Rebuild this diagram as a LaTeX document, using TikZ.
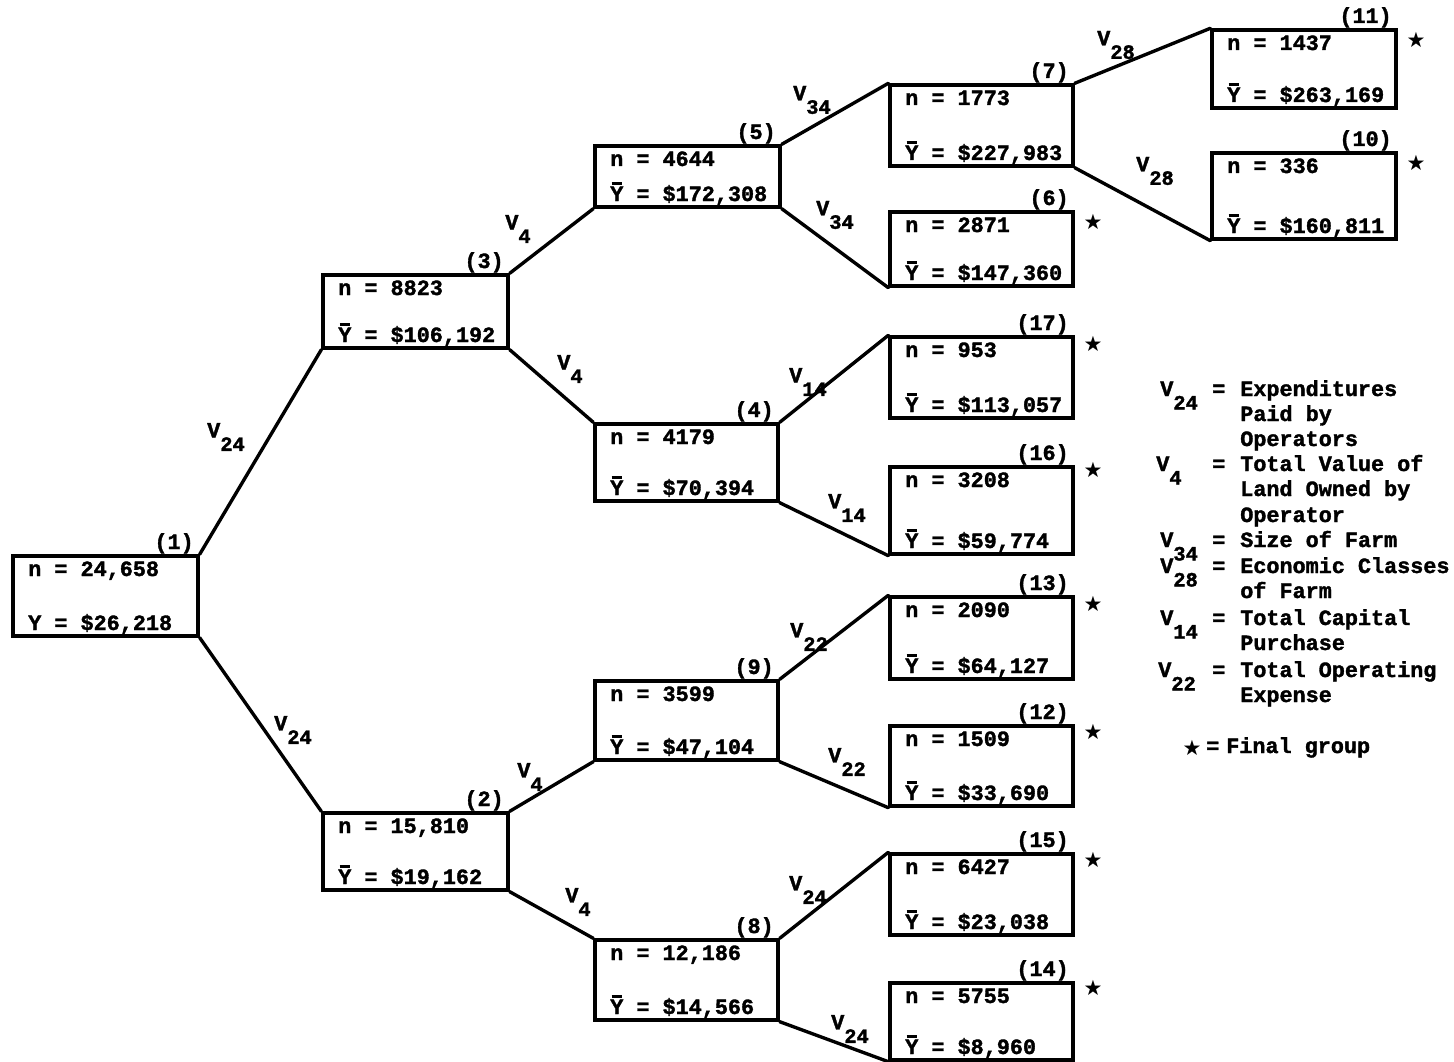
\documentclass[tikz,border=0pt]{standalone}
\usepackage{fontspec}
\setmainfont{Liberation Mono}[BoldFeatures={FakeBold=1.6}]
\newfontfamily\symfont{DejaVu Sans}
\usetikzlibrary{fit}

% mean value symbol: Y with a heavy bar over it
\newcommand\ybar{\leavevmode\rlap{\hspace{0.06em}\raisebox{0.74em}{\rule{0.48em}{1.8pt}}}Y}
% variable name with a lowered index
\newcommand\vsub[1]{V\raisebox{-0.62em}{\fontsize{14.5}{16}\selectfont #1}}
\newcommand\finstar{{\symfont\fontsize{15}{16}\selectfont ★}}

\tikzset{
  every node/.style={font=\fontsize{15.5}{18}\selectfont\bfseries},
  tbox/.style={draw, line width=2.4pt, inner sep=0pt},
  txt/.style={inner sep=0pt, anchor=base west},
  num/.style={inner sep=0pt, anchor=base east},
  link/.style={line width=2.4pt, line join=round, line cap=round},
  vlab/.style={inner sep=0pt},
  fin/.style={inner sep=0pt},
}

% group box: name, corners, size, mean line, group number
\newcommand\treebox[8]{%
  \node[tbox, fit={(#2,#3)(#4,#5)}] (#1) {};
  \node[txt] (#1n) at (#2+15,#3+20) {n = #6};
  \node[txt] (#1y) at (#2+15,#5-6) {#7};
  \node[num] (#1k) at (#4-4,#3-7) {(#8)};
}
% final group marker beside a box
\newcommand\finalmark[3]{%
  \node[fin] (#1s) at (#2+20,#3+10) {\finstar};
}

\begin{document}
\begin{tikzpicture}[x=0.25mm,y=-0.25mm]
\fill[white] (0,0) rectangle (1454,1062);
\useasboundingbox (0,0) rectangle (1454,1062);

% level 0 and 1
\treebox{b1}{13}{556}{198}{636}{24,658}{Y = \$26,218}{1}
\treebox{b3}{323}{275}{508}{348}{8823}{\ybar{} = \$106,192}{3}
\treebox{b2}{323}{813}{508}{890}{15,810}{\ybar{} = \$19,162}{2}

% level 2
\treebox{b5}{595}{146}{780}{207}{4644}{\ybar{} = \$172,308}{5}
\treebox{b4}{595}{424}{778}{501}{4179}{\ybar{} = \$70,394}{4}
\treebox{b9}{595}{681}{778}{760}{3599}{\ybar{} = \$47,104}{9}
\treebox{b8}{595}{940}{778}{1020}{12,186}{\ybar{} = \$14,566}{8}

% level 3
\treebox{b7}{890}{85}{1073}{166}{1773}{\ybar{} = \$227,983}{7}
\treebox{b6}{890}{212}{1073}{286}{2871}{\ybar{} = \$147,360}{6}
\treebox{b17}{890}{337}{1073}{418}{953}{\ybar{} = \$113,057}{17}
\treebox{b16}{890}{467}{1073}{554}{3208}{\ybar{} = \$59,774}{16}
\treebox{b13}{890}{597}{1073}{679}{2090}{\ybar{} = \$64,127}{13}
\treebox{b12}{890}{726}{1073}{806}{1509}{\ybar{} = \$33,690}{12}
\treebox{b15}{890}{854}{1073}{935}{6427}{\ybar{} = \$23,038}{15}
\treebox{b14}{890}{983}{1073}{1060}{5755}{\ybar{} = \$8,960}{14}

% level 4
\treebox{b11}{1212}{30}{1396}{108}{1437}{\ybar{} = \$263,169}{11}
\treebox{b10}{1212}{153}{1396}{239}{336}{\ybar{} = \$160,811}{10}

% final groups
\finalmark{b11}{1396}{30}
\finalmark{b10}{1396}{153}
\finalmark{b6}{1073}{212}
\finalmark{b17}{1073}{334}
\finalmark{b16}{1073}{460}
\finalmark{b13}{1073}{594}
\finalmark{b12}{1073}{722}
\finalmark{b15}{1073}{850}
\finalmark{b14}{1073}{978}

% splits
\draw[link] (b1.north east) -- (b3.south west);
\draw[link] (b1.south east) -- (b2.north west);
\draw[link] (b3.north east) -- (b5.south west);
\draw[link] (b3.south east) -- (b4.north west);
\draw[link] (b5.north east) -- (b7.north west);
\draw[link] (b5.south east) -- (b6.south west);
\draw[link] (b7.north east) -- (b11.north west);
\draw[link] (b7.south east) -- (b10.south west);
\draw[link] (b4.north east) -- (b17.north west);
\draw[link] (b4.south east) -- (b16.south west);
\draw[link] (b2.north east) -- (b9.south west);
\draw[link] (b2.south east) -- (b8.north west);
\draw[link] (b9.north east) -- (b13.north west);
\draw[link] (b9.south east) -- (b12.south west);
\draw[link] (b8.north east) -- (b15.north west);
\draw[link] (b8.south east) -- (b14.south west);

% split variables
\node[vlab] (s13) at (226,437) {\vsub{24}};
\node[vlab] (s12) at (293,730) {\vsub{24}};
\node[vlab] (s35) at (518,229) {\vsub{4}};
\node[vlab] (s34) at (570,369) {\vsub{4}};
\node[vlab] (s57) at (812,100) {\vsub{34}};
\node[vlab] (s56) at (835,215) {\vsub{34}};
\node[vlab] (s711) at (1116,45) {\vsub{28}};
\node[vlab] (s710) at (1155,171) {\vsub{28}};
\node[vlab] (s417) at (808,382) {\vsub{14}};
\node[vlab] (s416) at (847,508) {\vsub{14}};
\node[vlab] (s29) at (530,777) {\vsub{4}};
\node[vlab] (s28) at (578,902) {\vsub{4}};
\node[vlab] (s913) at (809,637) {\vsub{22}};
\node[vlab] (s912) at (847,762) {\vsub{22}};
\node[vlab] (s815) at (808,890) {\vsub{24}};
\node[vlab] (s814) at (850,1029) {\vsub{24}};

% key
\node[txt] (k24v) at (1160,396) {\vsub{24}};
\node[txt] (k24e) at (1212,396) {=};
\node[txt] (k24a) at (1240,396) {Expenditures};
\node[txt] (k24b) at (1240,421) {Paid by};
\node[txt] (k24c) at (1240,446) {Operators};
\node[txt] (k4v) at (1156,471) {\vsub{4}};
\node[txt] (k4e) at (1212,471) {=};
\node[txt] (k4a) at (1240,471) {Total Value of};
\node[txt] (k4b) at (1240,496) {Land Owned by};
\node[txt] (k4c) at (1240,522) {Operator};
\node[txt] (k34v) at (1160,547) {\vsub{34}};
\node[txt] (k34e) at (1212,547) {=};
\node[txt] (k34a) at (1240,547) {Size of Farm};
\node[txt] (k28v) at (1160,573) {\vsub{28}};
\node[txt] (k28e) at (1212,573) {=};
\node[txt] (k28a) at (1240,573) {Economic Classes};
\node[txt] (k28b) at (1240,598) {of Farm};
\node[txt] (k14v) at (1160,625) {\vsub{14}};
\node[txt] (k14e) at (1212,625) {=};
\node[txt] (k14a) at (1240,625) {Total Capital};
\node[txt] (k14b) at (1240,650) {Purchase};
\node[txt] (k22v) at (1158,677) {\vsub{22}};
\node[txt] (k22e) at (1212,677) {=};
\node[txt] (k22a) at (1240,677) {Total Operating};
\node[txt] (k22b) at (1240,702) {Expense};
\node[fin] (kfs) at (1192,748) {\finstar};
\node[txt] (kfe) at (1206,753) {=};
\node[txt] (kfa) at (1226,753) {Final group};
\end{tikzpicture}
\end{document}
